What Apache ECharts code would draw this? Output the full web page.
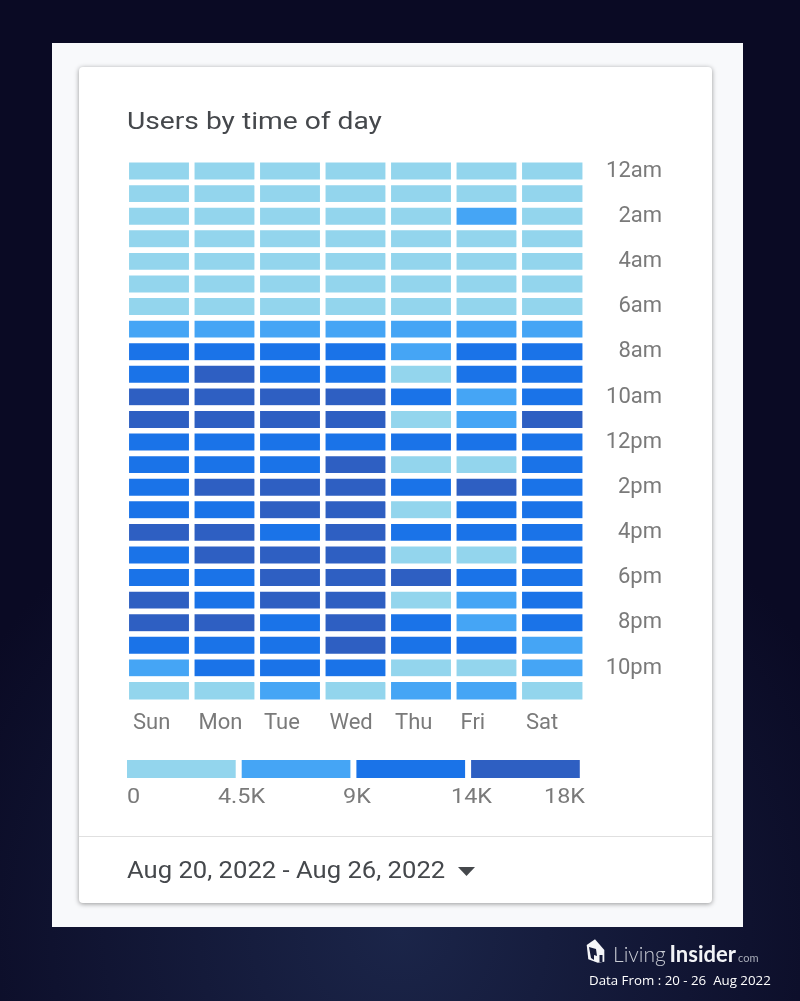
<!DOCTYPE html>
<html style="height: 100%">
<head>
    <meta charset="UTF-8" />
    <title>Users by time of day</title>
    <style>
        html, body { margin: 0; padding: 0; background: #0d1030; }
        #main { width: 800px; height: 1001px; }
    </style>
</head>
<body>
    <div id="main"></div>
    <script src="https://cdn.jsdelivr.net/npm/echarts@6/dist/echarts.min.js"></script>
    <script>
        var days = ['Sun','Mon','Tue','Wed','Thu','Fri','Sat'];
        var hours = ['12am','1am','2am','3am','4am','5am','6am','7am','8am','9am','10am','11am',
                     '12pm','1pm','2pm','3pm','4pm','5pm','6pm','7pm','8pm','9pm','10pm','11pm'];
        var sun = [2200,2200,2200,2200,2200,2200,2200,6800,11500,11500,16000,16000,11500,11500,11500,11500,16000,11500,11500,16000,16000,11500,6800,2200];
        var mon = [2200,2200,2200,2200,2200,2200,2200,6800,11500,16000,16000,16000,11500,11500,16000,11500,16000,16000,11500,11500,16000,11500,11500,2200];
        var tue = [2200,2200,2200,2200,2200,2200,2200,6800,11500,11500,16000,16000,11500,11500,16000,16000,11500,16000,16000,16000,11500,11500,11500,6800];
        var wed = [2200,2200,2200,2200,2200,2200,2200,6800,11500,11500,16000,16000,11500,16000,16000,16000,16000,16000,16000,16000,16000,16000,11500,2200];
        var thu = [2200,2200,2200,2200,2200,2200,2200,6800,6800,2200,11500,2200,11500,2200,11500,2200,11500,2200,16000,2200,11500,11500,2200,6800];
        var fri = [2200,2200,6800,2200,2200,2200,2200,6800,11500,11500,6800,6800,11500,2200,16000,11500,11500,2200,11500,6800,6800,11500,2200,6800];
        var sat = [2200,2200,2200,2200,2200,2200,2200,6800,11500,11500,11500,16000,11500,11500,11500,11500,11500,11500,11500,11500,11500,6800,6800,2200];
        var week = [sun,mon,tue,wed,thu,fri,sat];

        var bandEdges = [0,4500,9000,14000,18000];
        var bandColors = ['#93d5ed','#45a5f5','#1a73e8','#2e5fc2'];
        var legendLabels = ['0','4.5K','9K','14K','18K'];

        var heatData = [];
        for(var d = 0; d < week.length; d++){
            for(var h = 0; h < hours.length; h++){
                heatData.push([d,h,week[d][h]]);
            }
        }
        var pieces = [];
        for(var i = 0; i < bandColors.length; i++){
            pieces.push({min: bandEdges[i], max: bandEdges[i+1], color: bandColors[i], symbol: 'rect'});
        }

        var font = 'Roboto';
        var grey = '#7a7a7a';
        var app = echarts.init(document.getElementById('main'));

        /* card, footer and logo */
        var legendX = [127,241.5,357,471.5,585];
        var legendAlign = ['left','center','center','center','right'];
        var graphics = [
            {type:'rect', shape:{x:52,y:43,width:691,height:884}, style:{fill:'#f8f9fb'}},
            {type:'rect', shape:{x:79,y:67,width:633,height:836,r:4},
                style:{fill:'#fff', shadowBlur:5, shadowColor:'rgba(0,0,0,0.4)', shadowOffsetY:1}},
            {type:'rect', shape:{x:79,y:836,width:633,height:1}, style:{fill:'#e0e0e0'}},
            {type:'text', x:127, y:123, scaleX:1.2, style:{text:'Users by time of day', font:'23.5px '+font, fill:'#45484c', textVerticalAlign:'middle'}},
            {type:'text', x:127, y:872, scaleX:1.09, style:{text:'Aug 20, 2022 - Aug 26, 2022', font:'23.5px '+font, fill:'#45484c', textVerticalAlign:'middle'}},
            {type:'polygon', shape:{points:[[458,867],[475,867],[466.5,876]]}, style:{fill:'#45484c'}},
            /* house icon */
            {type:'polygon', shape:{points:[[586.7,945],[595,939.3],[604.3,950],[604.3,961.7],[597.7,962.7],[588.3,959.3]]}, style:{fill:'#f4f5f8'}},
            {type:'polygon', shape:{points:[[589,947],[596,949],[597,956],[594,955],[594,960],[591,958]]}, style:{fill:'#141a3a'}},
            {type:'rect', shape:{x:599.5,y:955,width:3,height:7}, style:{fill:'#141a3a'}},
            {type:'text', x:613, y:955, style:{text:'Living', font:'300 21px Lato', fill:'#c9ccd4', textVerticalAlign:'middle'}},
            {type:'text', x:669.5, y:955, style:{text:'Insider', font:'700 22px Lato', fill:'#f2f3f6', textVerticalAlign:'middle'}},
            {type:'text', x:738, y:958, style:{text:'com', font:'11px Lato', fill:'#a8acb8', textVerticalAlign:'middle'}},
            {type:'text', x:589, y:981, style:{text:'Data From : 20 - 26  Aug 2022', font:'500 13.3px "Open Sans"', fill:'#fff', textVerticalAlign:'middle'}}
        ];
        for(var t = 0; t < legendLabels.length; t++){
            graphics.push({type:'text', x:legendX[t], y:798, scaleX:1.17, style:{text:legendLabels[t], font:'20px '+font, fill:grey, textAlign:legendAlign[t], textVerticalAlign:'middle'}});
        }

        var option = {
            backgroundColor: {
                type:'radial', x:0.5, y:0.93, r:0.62,
                colorStops:[{offset:0,color:'#1b2549'},{offset:1,color:'#0a0a24'}]
            },
            animation: false,
            grid: {left:126.5, top:160, width:458.5, height:542},
            graphic: graphics,
            xAxis: [
                {
                    type:'category', data:days, position:'bottom',
                    axisLine:{show:false}, axisTick:{show:false}, splitLine:{show:false},
                    axisLabel:{show:false}
                },
                /* labels start at the cell's left edge, so they sit on a second axis */
                {
                    type:'category', data:days.concat(['']), position:'bottom', boundaryGap:false,
                    axisLine:{show:false}, axisTick:{show:false}, splitLine:{show:false},
                    axisLabel:{interval:0, align:'left', margin:10, padding:[0,0,0,6.5], fontFamily:font, fontSize:22, color:grey}
                }
            ],
            yAxis: {
                type:'category', data:hours, inverse:true, position:'right',
                axisLine:{show:false}, axisTick:{show:false}, splitLine:{show:false},
                axisLabel:{interval:1, align:'right', margin:77, padding:[4,0,0,0], fontFamily:font, fontSize:22, color:grey}
            },
            visualMap: {
                type:'piecewise', orient:'horizontal', left:127, top:760, padding:0,
                itemWidth:108.7, itemHeight:18, itemGap:6, showLabel:false,
                pieces:pieces, seriesIndex:0
            },
            series: [{
                type:'heatmap', data:heatData, xAxisIndex:0, yAxisIndex:0,
                itemStyle:{borderColor:'#fff', borderWidth:5.6}
            }]
        };
        app.setOption(option);
    </script>
</body>
</html>
